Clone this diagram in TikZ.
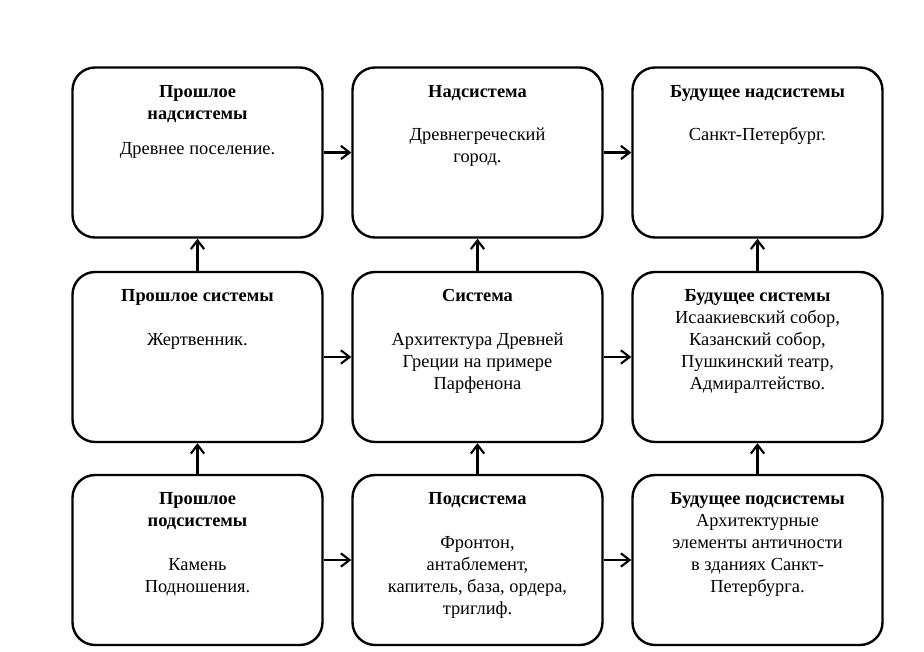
\documentclass[tikz,border=0pt]{standalone}
\usepackage{fontspec}
\setmainfont{Liberation Serif}
\usetikzlibrary{positioning,arrows.meta}

\begin{document}
\begin{tikzpicture}[x=0.75pt,y=-0.75pt]
            \tikzset{blok/.style={draw=black,line width=1.8pt,rounded corners=17pt,minimum width=187.5pt,minimum height=127.5pt,inner sep=0pt},
                     txt/.style={anchor=north,align=center,inner sep=0pt,font=\fontsize{13.8}{16.5}\selectfont},
                     strelka/.style={-{Straight Barb[length=6.5pt,width=10pt]},line width=1.6pt}}
            \useasboundingbox (0,0) rectangle (924,652);
            \node [blok] (b11) at (197.5,152.5) {};
            \node [blok] (b12) at (477.5,152.5) {};
            \node [blok] (b13) at (757.5,152.5) {};
            \node [blok] (b21) at (197.5,357) {};
            \node [blok] (b22) at (477.5,357) {};
            \node [blok] (b23) at (757.5,357) {};
            \node [blok] (b31) at (197.5,560) {};
            \node [blok] (b32) at (477.5,560) {};
            \node [blok] (b33) at (757.5,560) {};
            \node [txt] (t11) at ([yshift=-14pt]b11.north) {\textbf{Прошлое}\\\textbf{надсистемы}\\[10pt]Древнее поселение.};
            \node [txt] (t12) at ([yshift=-14pt]b12.north) {\textbf{Надсистема}\\[16pt]Древнегреческий\\город.};
            \node [txt] (t13) at ([yshift=-14pt]b13.north) {\textbf{Будущее надсистемы}\\[16pt]Санкт-Петербург.};
            \node [txt] (t21) at ([yshift=-14pt]b21.north) {\textbf{Прошлое системы}\\[16pt]Жертвенник.};
            \node [txt] (t22) at ([yshift=-14pt]b22.north) {\textbf{Система}\\[16pt]Архитектура Древней\\Греции на примере\\Парфенона};
            \node [txt] (t23) at ([yshift=-14pt]b23.north) {\textbf{Будущее системы}\\Исаакиевский собор,\\Казанский собор,\\Пушкинский театр,\\Адмиралтейство.};
            \node [txt] (t31) at ([yshift=-14pt]b31.north) {\textbf{Прошлое}\\\textbf{подсистемы}\\[16pt]Камень\\Подношения.};
            \node [txt] (t32) at ([yshift=-14pt]b32.north) {\textbf{Подсистема}\\[16pt]Фронтон,\\антаблемент,\\капитель, база, ордера,\\триглиф.};
            \node [txt] (t33) at ([yshift=-14pt]b33.north) {\textbf{Будущее подсистемы}\\Архитектурные\\элементы античности\\в зданиях Санкт-\\Петербурга.};
            \draw [strelka] (b11) -- (b12);
            \draw [strelka] (b12) -- (b13);
            \draw [strelka] (b21) -- (b22);
            \draw [strelka] (b22) -- (b23);
            \draw [strelka] (b31) -- (b32);
            \draw [strelka] (b32) -- (b33);
            \draw [strelka] (b21) -- (b11);
            \draw [strelka] (b22) -- (b12);
            \draw [strelka] (b23) -- (b13);
            \draw [strelka] (b31) -- (b21);
            \draw [strelka] (b32) -- (b22);
            \draw [strelka] (b33) -- (b23);
        \end{tikzpicture}
\end{document}
